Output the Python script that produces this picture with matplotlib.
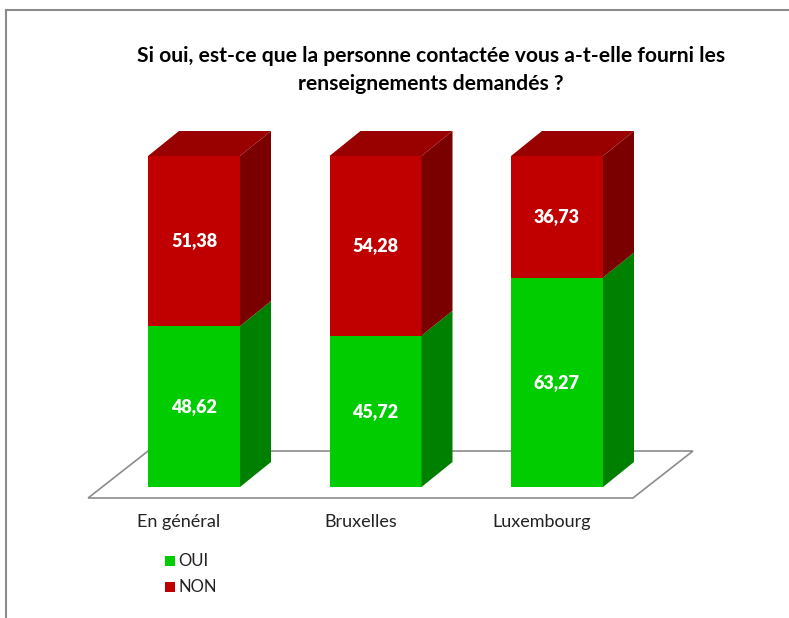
import matplotlib.pyplot as plt
from matplotlib.patches import Polygon, Rectangle
from matplotlib.lines import Line2D

plt.rcParams['font.family'] = ['Lato', 'DejaVu Sans']

categories = ["En général", "Bruxelles", "Luxembourg"]
oui = [48.62, 45.72, 63.27]
non = [51.38, 54.28, 36.73]
series = [("OUI", oui), ("NON", non)]

# front / side / top shades per series
colors = {
    "OUI": ("#00cc00", "#008000", "#00a000"),
    "NON": ("#c00000", "#7a0000", "#990000"),
}

W, H = 789, 618
fig = plt.figure(figsize=(W / 100, H / 100), dpi=100)
ax = fig.add_axes([0, 0, 1, 1])

# pixels per category step and per percent point
sx, sy = 181.5, 3.31
x0, y0 = 194, 487
ax.set_xlim(-x0 / sx, (W - x0) / sx)
ax.set_ylim(-(H - y0) / sy, y0 / sy)
ax.axis("off")

bw = 92 / sx          # bar front width
ddx, ddy = 31 / sx, 25 / sy   # depth offset

# floor
fl_front = -11 / sy
fl_back = fl_front + 47 / sy
fl_skew = 60 / sx
left = -bw / 2 - 0.33
right = len(categories) - 1 + bw / 2 + 0.165
ax.add_patch(Polygon([(left, fl_front), (right, fl_front),
                      (right + fl_skew, fl_back), (left + fl_skew, fl_back)],
                     closed=True, facecolor="white", edgecolor="#8c8c8c", lw=1.2, zorder=1))

for i, cat in enumerate(categories):
    base = 0.0
    xl, xr = i - bw / 2, i + bw / 2
    for k, (name, vals) in enumerate(series):
        v = vals[i]
        front, side, top = colors[name]
        y1, y2 = base, base + v
        ax.add_patch(Rectangle((xl, y1), bw, v, facecolor=front, edgecolor="none", zorder=3))
        ax.add_patch(Polygon([(xr, y1), (xr + ddx, y1 + ddy), (xr + ddx, y2 + ddy), (xr, y2)],
                             closed=True, facecolor=side, edgecolor="none", zorder=3))
        if k == len(series) - 1:
            ax.add_patch(Polygon([(xl, y2), (xr, y2), (xr + ddx, y2 + ddy), (xl + ddx, y2 + ddy)],
                                 closed=True, facecolor=top, edgecolor="none", zorder=3))
        ax.text(i, (y1 + y2) / 2, f"{v:.2f}".replace(".", ","), ha="center", va="center",
                color="white", fontsize=13, fontweight="heavy", zorder=4)
        base = y2
    ax.text(i - 15 / sx, -35 / sy, cat, ha="center", va="center", fontsize=13, color="#222222")

# title
fig.text(431 / W, 1 - 70 / H,
         "Si oui, est-ce que la personne contactée vous a-t-elle fourni les\nrenseignements demandés ?",
         ha="center", va="center", fontsize=15.2, fontweight="bold", linespacing=1.45)

# legend
for j, (name, vals) in enumerate(series):
    yc = 561 + 26 * j
    fig.add_artist(Rectangle((165 / W, 1 - (yc + 5) / H), 10 / W, 10 / H,
                             facecolor=colors[name][0], edgecolor="none", transform=fig.transFigure))
    fig.text(178 / W, 1 - yc / H, name, ha="left", va="center", fontsize=12, color="#222222")

# chart frame (left and top edges)
fig.add_artist(Line2D([5.5 / W, 5.5 / W], [0, 1 - 10 / H], color="#8c8c8c", lw=1.5))
fig.add_artist(Line2D([5.5 / W, 1], [1 - 10 / H, 1 - 10 / H], color="#8c8c8c", lw=1.5))

fig.savefig("out.png", dpi=100, facecolor="white")
